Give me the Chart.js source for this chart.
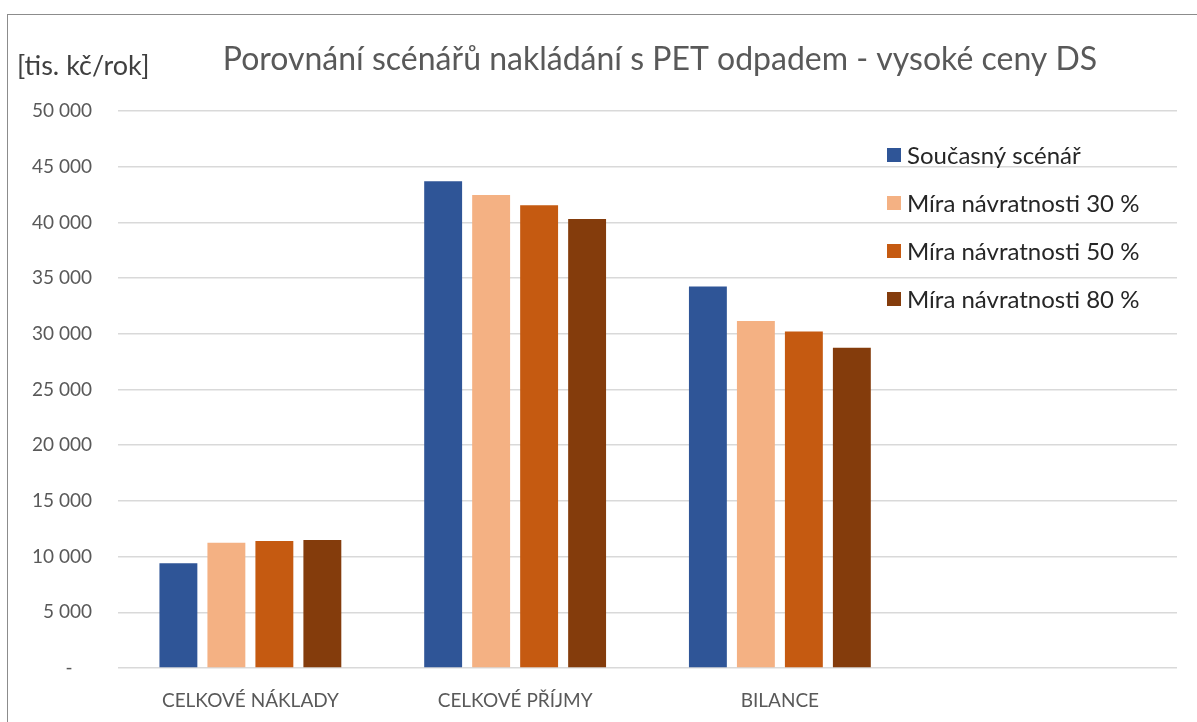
<!DOCTYPE html>
<html>
<head>
<meta charset="utf-8">
<script src="https://cdn.jsdelivr.net/npm/chart.js@4"></script>
<style>
  html, body { margin: 0; padding: 0; background: #fff; overflow: hidden; }
  #wrap { position: relative; width: 1197px; height: 722px; }
  #frame { position: absolute; left: 7px; top: 14px; width: 1210px; height: 730px; border: 1px solid #8c8c8c; }
  canvas { position: absolute; left: 0; top: 0; }
</style>
</head>
<body>
<div id="wrap">
  <div id="frame"></div>
  <canvas id="chart" width="1197" height="722"></canvas>
</div>
<script>
// kategorie (posledni prazdna - misto pro legendu)
const categories = ['CELKOVÉ NÁKLADY', 'CELKOVÉ PŘÍJMY', 'BILANCE', ''];
const seriesNames = ['Současný scénář', 'Míra návratnosti 30 %', 'Míra návratnosti 50 %', 'Míra návratnosti 80 %'];
const seriesColors = ['#2F5597', '#F4B183', '#C55A11', '#843C0C'];

const soucasny = [9400, 43700, 34250, null];
const navrat30 = [11250, 42450, 31150, null];
const navrat50 = [11400, 41550, 30200, null];
const navrat80 = [11500, 40300, 28750, null];

const yMin = 0, yMax = 50000, yStep = 5000;

const FONT = 'Lato, "Open Sans", sans-serif';

function fmt(v) {
  if (v === 0) return '-    ';
  return String(v).replace(/\B(?=(\d{3})+(?!\d))/g, ' ');
}

// titulek, jednotky a legenda kreslime sami
const decor = {
  id: 'decor',
  afterDraw(chart) {
    const c = chart.ctx;
    const a = chart.chartArea;
    c.save();
    c.fillStyle = '#595959';
    c.font = '32px ' + FONT;
    c.textAlign = 'center';
    c.textBaseline = 'middle';
    c.fillText('Porovnání scénářů nakládání s PET odpadem - vysoké ceny DS', 660, 60);

    c.font = '27px ' + FONT;
    c.textAlign = 'left';
    c.fillStyle = '#404040';
    c.fillText('[tis. kč/rok]', 17, 66);

    // legenda uvnitr grafu
    c.font = '24px ' + FONT;
    c.textBaseline = 'middle';
    chart.data.datasets.forEach((ds, i) => {
      const y = a.top + 44 + i * 48;
      const x = a.right - 290;
      c.fillStyle = ds.backgroundColor;
      c.fillRect(x, y - 7, 14, 14);
      c.fillStyle = '#262626';
      c.fillText(ds.label, x + 20, y + 1);
    });
    c.restore();
  }
};

const datasets = [soucasny, navrat30, navrat50, navrat80].map((d, i) => ({
  label: seriesNames[i],
  data: d,
  backgroundColor: seriesColors[i],
  categoryPercentage: 0.725,
  barPercentage: 0.79
}));

new Chart(document.getElementById('chart'), {
  type: 'bar',
  data: { labels: categories, datasets },
  options: {
    responsive: false,
    animation: false,
    layout: { padding: { top: 111, right: 20, left: 0, bottom: 0 } },
    plugins: { legend: { display: false }, title: { display: false }, tooltip: { enabled: false } },
    scales: {
      x: {
        grid: { display: false, drawTicks: false },
        border: { display: false },
        ticks: { color: '#595959', font: { family: FONT, size: 19 }, padding: 21, maxRotation: 0 },
        afterFit(s) { s.height = 54; }
      },
      y: {
        min: yMin, max: yMax,
        grid: { color: '#d9d9d9', lineWidth: 1.5, drawTicks: false },
        border: { display: false },
        ticks: { stepSize: yStep, color: '#595959', font: { family: FONT, size: 19 }, padding: 26, callback: v => fmt(v) },
        afterFit(s) { s.width = 118; }
      }
    }
  },
  plugins: [decor]
});
</script>
</body>
</html>
